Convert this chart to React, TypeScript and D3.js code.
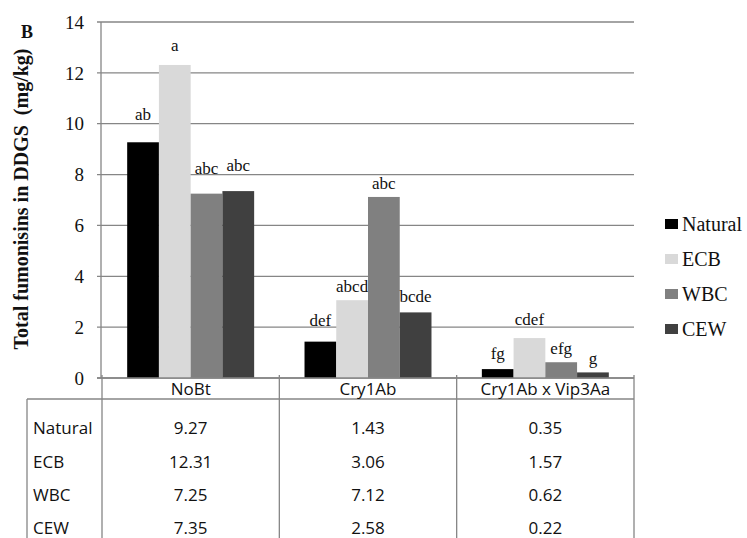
import React from 'react';
import * as d3 from 'd3';

const categories = ['NoBt', 'Cry1Ab', 'Cry1Ab x Vip3Aa'];
const seriesNames = ['Natural', 'ECB', 'WBC', 'CEW'];
const seriesColors = ['#000000', '#d9d9d9', '#808080', '#404040'];
// values per series, one per category
const natural = [9.27, 1.43, 0.35];
const ecb = [12.31, 3.06, 1.57];
const wbc = [7.25, 7.12, 0.62];
const cew = [7.35, 2.58, 0.22];
const seriesValues = [natural, ecb, wbc, cew];
// significance letters per series, one per category
const naturalLetters = ['ab', 'def', 'fg'];
const ecbLetters = ['a', 'abcd', 'cdef'];
const wbcLetters = ['abc', 'abc', 'efg'];
const cewLetters = ['abc', 'bcde', 'g'];
const seriesLetters = [naturalLetters, ecbLetters, wbcLetters, cewLetters];
const yTicks = [0, 2, 4, 6, 8, 10, 12, 14];

const W = 747;
const H = 538;
const plot = { left: 102, right: 634, top: 22, bottom: 378 };
const gridColor = '#868686';
const serif = '"Liberation Serif", "Times New Roman", serif';
const sans = '"Open Sans", "Noto Sans", sans-serif';
// the letters were placed by hand in the original, so the gap above each bar varies
const letterGap = [
    [22, 16, 10],
    [14, 8, 13],
    [20, 8, 8],
    [20, 10, 8],
];

const App: React.FC = () => {
    const x = d3.scaleBand<string>().domain(categories).range([plot.left, plot.right]);
    const bw = x.bandwidth();
    const xs = d3.scaleBand<string>().domain(seriesNames).range([bw * 0.142, bw * 0.858]);
    const y = d3.scaleLinear().domain([0, 14]).range([plot.bottom, plot.top]);

    const headerBottom = 399;
    const rowY = [428, 462, 495, 528];
    const tableLeft = 27;

    return (
        <svg width={W} height={H} style={{ position: 'absolute', left: 0, top: 0, background: '#fff' }}>
            <rect width={W} height={H} fill="#fff" />
            {/* gridlines and y ticks */}
            {yTicks.map((t) => (
                <g key={t}>
                    <line x1={plot.left - 5} x2={plot.right} y1={y(t)} y2={y(t)} stroke={gridColor} strokeWidth={1.3} />
                    <text x={84} y={y(t)} dy="0.35em" textAnchor="end" fontFamily={serif} fontSize={19} fill="#111">{t}</text>
                </g>
            ))}
            <line x1={plot.left - 1} x2={plot.left - 1} y1={plot.top} y2={plot.bottom} stroke={gridColor} strokeWidth={1.3} />

            {/* bars */}
            {seriesNames.map((s, si) => (
                <g key={s}>
                    {categories.map((c, ci) => {
                        const v = seriesValues[si][ci];
                        const bx = (x(c) as number) + (xs(s) as number);
                        return (
                            <g key={c}>
                                <rect x={bx} y={y(v)} width={xs.bandwidth()} height={y(0) - y(v)} fill={seriesColors[si]} />
                                <text x={bx + xs.bandwidth() / 2} y={y(v) - letterGap[si][ci]} textAnchor="middle" fontFamily={serif} fontSize={17} fill="#111">
                                    {seriesLetters[si][ci]}
                                </text>
                            </g>
                        );
                    })}
                </g>
            ))}

            {/* axis base */}
            <line x1={plot.left - 5} x2={plot.right} y1={plot.bottom} y2={plot.bottom} stroke={gridColor} strokeWidth={1.3} />

            {/* data table */}
            <line x1={tableLeft} x2={plot.right} y1={headerBottom} y2={headerBottom} stroke={gridColor} strokeWidth={1.3} />
            <line x1={tableLeft} x2={tableLeft} y1={headerBottom} y2={H} stroke={gridColor} strokeWidth={1.3} />
            {[...categories.map((c) => x(c) as number), plot.right].map((lx, i) => (
                <line key={i} x1={lx} x2={lx} y1={plot.bottom - 3} y2={H} stroke={gridColor} strokeWidth={1.3} />
            ))}
            {categories.map((c) => (
                <text key={c} x={(x(c) as number) + bw / 2} y={389} dy="0.35em" textAnchor="middle" fontFamily={sans} fontSize={17} fill="#111">{c}</text>
            ))}
            {seriesNames.map((s, si) => (
                <g key={s}>
                    <text x={33} y={rowY[si]} dy="0.35em" fontFamily={sans} fontSize={17} fill="#111">{s}</text>
                    {categories.map((c, ci) => (
                        <text key={c} x={(x(c) as number) + bw / 2} y={rowY[si]} dy="0.35em" textAnchor="middle" fontFamily={sans} fontSize={17} fill="#111">
                            {seriesValues[si][ci].toFixed(2)}
                        </text>
                    ))}
                </g>
            ))}

            {/* legend */}
            {seriesNames.map((s, si) => (
                <g key={s} transform={`translate(665, ${224 + si * 35})`}>
                    <rect x={0} y={-5} width={13} height={10} fill={seriesColors[si]} />
                    <text x={17} y={0} dy="0.35em" fontFamily={serif} fontSize={20} fill="#111">{s}</text>
                </g>
            ))}

            {/* y-axis title and panel label */}
            <text transform="translate(28, 199) rotate(-90)" textAnchor="middle" fontFamily={serif} fontWeight="bold" fontSize={20} fill="#111" style={{ whiteSpace: 'pre' }}>
                Total fumonisins in DDGS  (mg/kg)
            </text>
            <text x={21} y={38} fontFamily={serif} fontWeight="bold" fontSize={18} fill="#111">B</text>
        </svg>
    );
};

export default App;
